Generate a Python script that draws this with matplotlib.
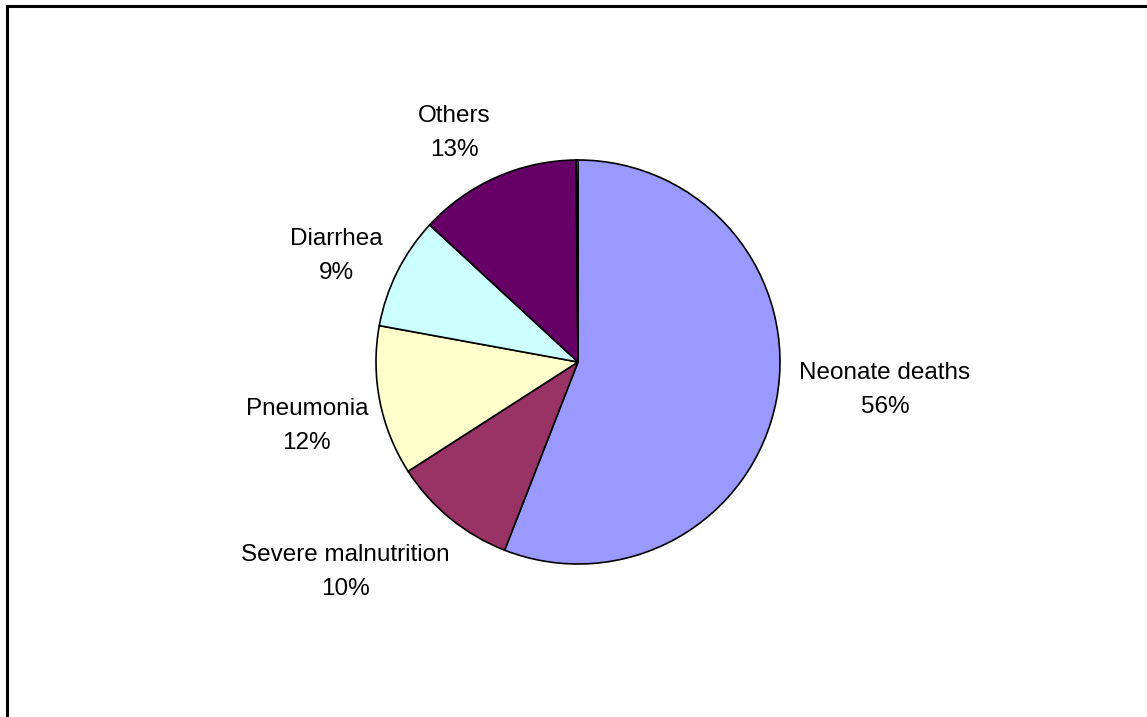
import matplotlib.pyplot as plt
from matplotlib.patches import Rectangle

plt.rcParams['font.family'] = ['Liberation Sans', 'DejaVu Sans']

# Causes of under-five deaths (percent)
causes = ["Neonate deaths", "Severe malnutrition", "Pneumonia", "Diarrhea", "Others", ""]
shares = [56, 10, 12, 9, 13, 0.15]
colors = ["#9999FF", "#993366", "#FFFFCC", "#CCFFFF", "#660066", "#FFFFFF"]

# label anchor points, in units of the pie radius
label_xy = [(1.52, -0.14), (-1.153, -1.04), (-1.342, -0.317), (-1.198, 0.525), (-0.614, 1.134)]

fig = plt.figure(figsize=(11.47, 7.17), dpi=100)
W, H = 1147, 717
cx, cy, r = 578, 362, 202
ax = fig.add_axes([(cx - r) / W, (H - cy - r) / H, 2 * r / W, 2 * r / H])

ax.pie(shares, colors=colors, startangle=90, counterclock=False, radius=1,
       wedgeprops=dict(edgecolor="black", linewidth=1.2), frame=True)
ax.set_xlim(-1, 1)
ax.set_ylim(-1, 1)
ax.set_aspect("auto")
ax.axis("off")

for name, val, (x, y) in zip(causes, shares, label_xy):
    ax.text(x, y, f"{name}\n{val:.0f}%", ha="center", va="center",
            fontsize=17.5, linespacing=1.7, clip_on=False)

# outer chart frame, running off the right and bottom edges
fig.patches.append(Rectangle((7 / W, -0.05), 1.2, 1 - 6 / H + 0.05,
                             transform=fig.transFigure, fill=False,
                             edgecolor="black", linewidth=2.2))

fig.savefig("out.png", dpi=100)
